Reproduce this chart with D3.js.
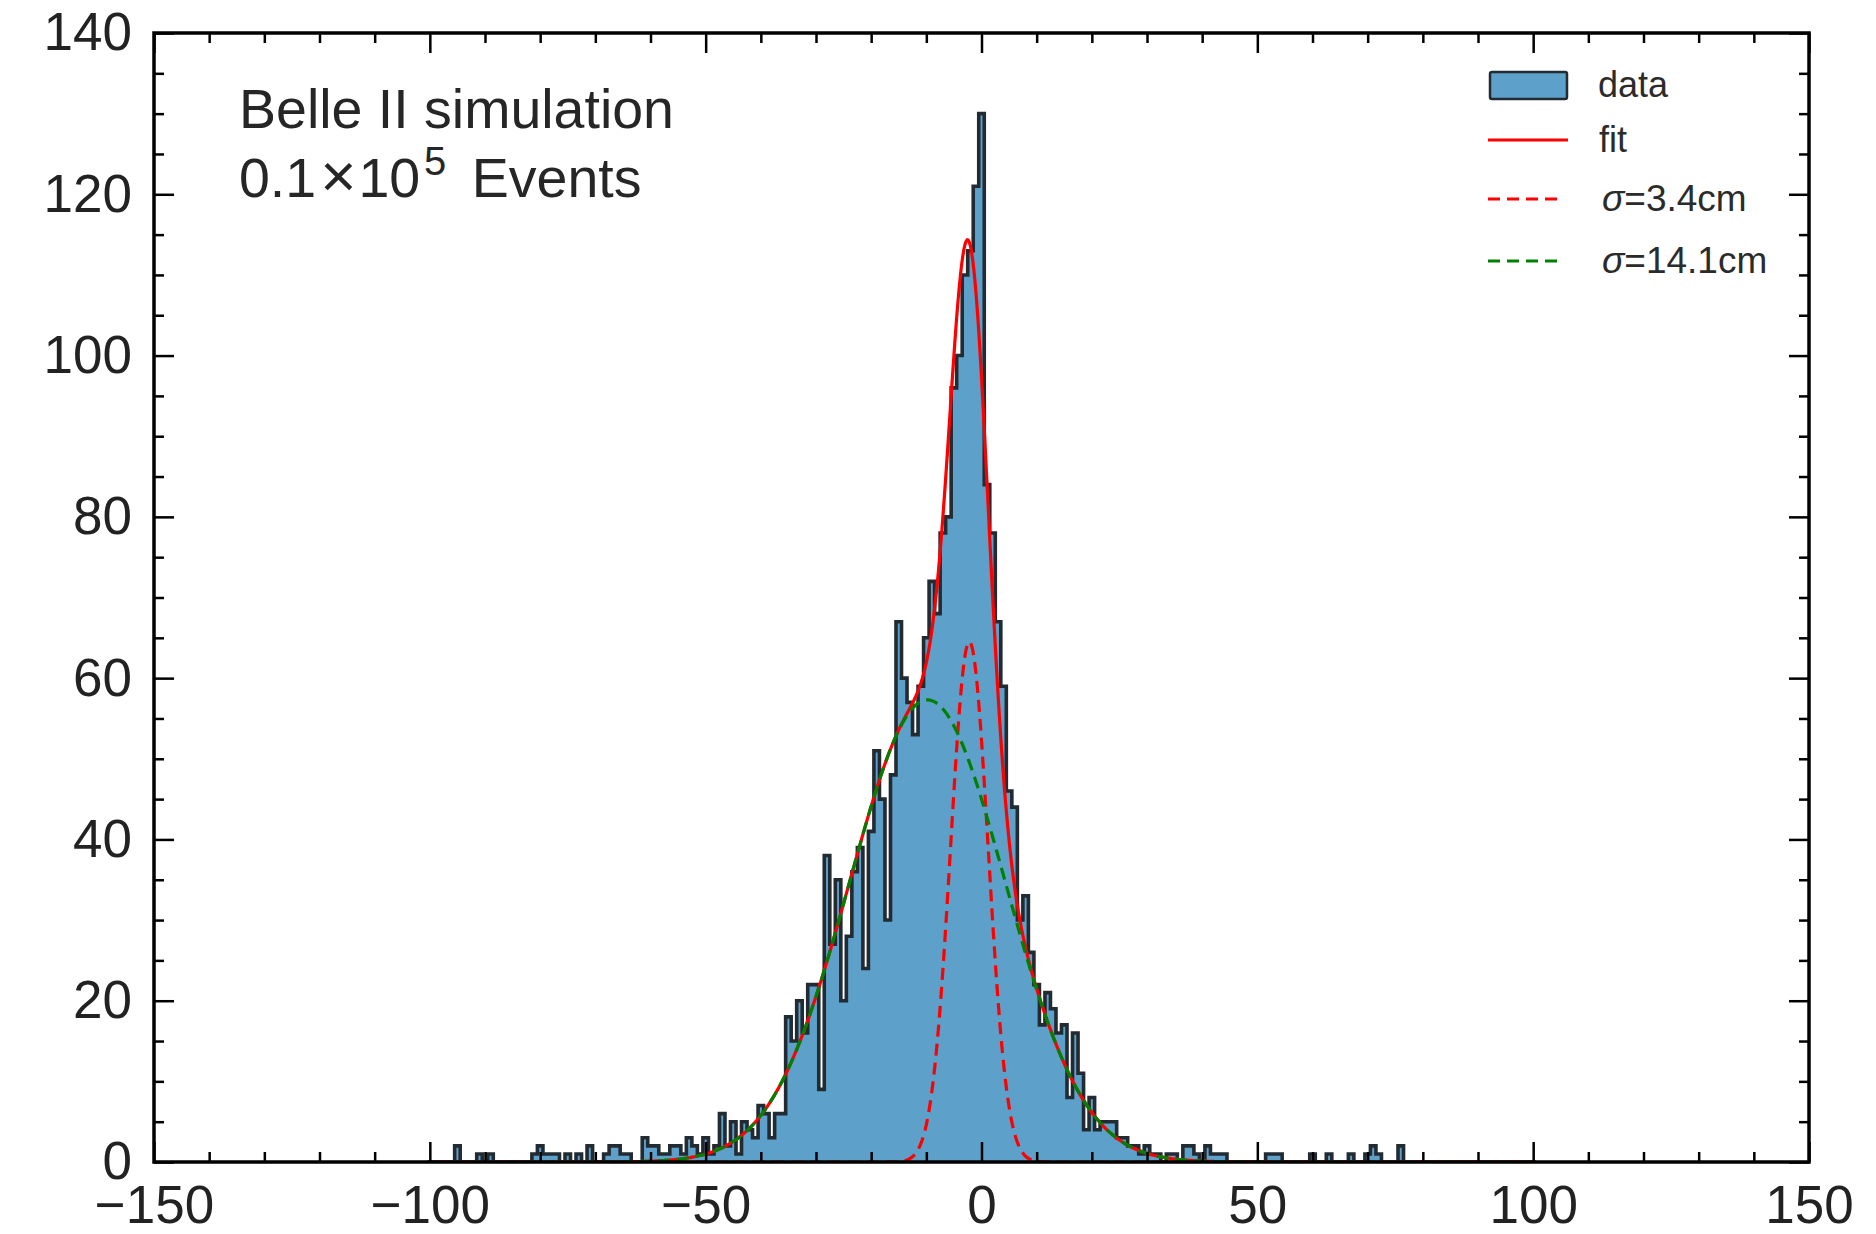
<!DOCTYPE html>
<html><head><meta charset="utf-8">
<script src="https://cdn.jsdelivr.net/npm/d3@7"></script>
<style>body{margin:0;background:#fff}svg{display:block}</style>
</head><body>
<svg id="chart" width="1876" height="1234"></svg>
<script>
// ---------- data ----------
const histStart = -100.5;   // left edge of the first bin
const binWidth = 1;
// counts per bin, bins centred on -100 ... 100
const counts = [
  0,0,0,0,0,2,0,0,0,1,        // -100..-91
  0,1,0,0,0,0,0,0,0,1,        // -90..-81
  2,1,1,1,0,1,0,1,0,2,        // -80..-71
  0,0,1,2,2,1,1,0,0,3,        // -70..-61
  2,2,1,1,2,2,1,3,2,1,        // -60..-51
  3,1,2,6,2,5,1,5,4,3,        // -50..-41
  7,6,3,6,6,18,15,20,16,22,   // -40..-31
  22,9,38,27,35,20,28,36,39,24, // -30..-21
  41,51,45,30,48,67,60,57,53,59, // -20..-11
  65,72,68,78,80,96,100,110,113,121, // -10..-1
  130,84,78,67,59,46,44,30,33,26, // 0..9
  22,17,21,19,16,17,8,16,11,4,  // 10..19
  8,4,5,5,5,3,3,2,2,1,        // 20..29
  2,1,1,0,1,1,0,2,2,1,        // 30..39
  0,2,1,1,1,0,0,0,0,0,        // 40..49
  0,0,1,1,1,0,0,0,0,0,        // 50..59
  1,0,0,1,0,0,0,1,0,0,        // 60..69
  1,2,1,0,0,0,2,0,0,0,        // 70..79
  0,0,0,0,0,0,0,0,0,0,        // 80..89
  0,0,0,0,0,0,0,0,0,0,        // 90..99
  0                           // 100
];
// fitted Gaussian components (narrow, wide)
const fitLabels = ["σ=3.4cm", "σ=14.1cm"];
const fitMu = [-2.2, -9.8];
const fitSigma = [3.4, 14.1];
const fitAmp = [64.5, 57.3];
const fitRange = [-100, 100];

const xTicks = [-150, -100, -50, 0, 50, 100, 150];
const yTicks = [0, 20, 40, 60, 80, 100, 120, 140];
const xMinorStep = 10, yMinorStep = 5;

// ---------- layout ----------
const W = 1876, H = 1234;
const L = 154, R = 1809, T = 33, B = 1162;
const svg = d3.select("#chart");
svg.append("rect").attr("width", W).attr("height", H).attr("fill", "#fff");

const x = d3.scaleLinear().domain([-150, 150]).range([L, R]);
const y = d3.scaleLinear().domain([0, 140]).range([B, T]);

svg.append("clipPath").attr("id", "clip").append("rect")
  .attr("x", L).attr("y", T).attr("width", R - L).attr("height", B - T);

const plot = svg.append("g").attr("clip-path", "url(#clip)");

// histogram (stepfilled)
const pts = counts.map((c, i) => [histStart + i * binWidth, c]);
pts.push([histStart + counts.length * binWidth, counts[counts.length - 1]]);
const full = [[pts[0][0], 0]].concat(pts).concat([[pts[pts.length - 1][0], 0]]);

const area = d3.area().x(d => x(d[0])).y0(y(0)).y1(d => y(d[1])).curve(d3.curveStepAfter);
const stepLine = d3.line().x(d => x(d[0])).y(d => y(d[1])).curve(d3.curveStepAfter);

const fillColor = "#5da0ca", edgeColor = "#222b32";
plot.append("path").attr("d", area(pts)).attr("fill", fillColor);
plot.append("path").attr("d", stepLine(full)).attr("fill", "none")
  .attr("stroke", edgeColor).attr("stroke-width", 3.6).attr("stroke-linejoin", "miter");

// fit curves
const gauss = (k, v) => fitAmp[k] * Math.exp(-((v - fitMu[k]) ** 2) / (2 * fitSigma[k] ** 2));
const xs = d3.range(fitRange[0], fitRange[1] + 0.001, 0.2);
const fitLine = d3.line().x(d => x(d[0])).y(d => y(d[1]));
const total = xs.map(v => [v, gauss(0, v) + gauss(1, v)]);
const narrow = xs.map(v => [v, gauss(0, v)]);
const wide = xs.map(v => [v, gauss(1, v)]);
const dash = "12,7";
plot.append("path").attr("d", fitLine(total)).attr("fill", "none").attr("stroke", "#ff0000").attr("stroke-width", 3.2);
plot.append("path").attr("d", fitLine(narrow)).attr("fill", "none").attr("stroke", "#ff0000").attr("stroke-width", 3.2).attr("stroke-dasharray", dash);
plot.append("path").attr("d", fitLine(wide)).attr("fill", "none").attr("stroke", "#008000").attr("stroke-width", 3.2).attr("stroke-dasharray", dash);

// ---------- axes ----------
const font = "'Liberation Sans', Arial, Helvetica, sans-serif";
const xMinor = d3.range(-150, 151, xMinorStep).filter(v => !xTicks.includes(v));
const yMinor = d3.range(0, 141, yMinorStep).filter(v => !yTicks.includes(v));
const MAJ = 20, MIN = 10;

function styleTicks(g) {
  g.select(".domain").remove();
  g.selectAll(".tick line").attr("stroke", "#000").attr("stroke-width", 2.5);
  g.selectAll(".tick text").attr("fill", "#222").attr("font-family", font).attr("font-size", 53);
}
// bottom
svg.append("g").attr("transform", `translate(0,${B})`)
  .call(d3.axisBottom(x).tickValues(xTicks).tickSizeInner(-MAJ).tickSizeOuter(0).tickPadding(23).tickFormat(d3.format("d")))
  .call(styleTicks);
svg.append("g").attr("transform", `translate(0,${B})`)
  .call(d3.axisBottom(x).tickValues(xMinor).tickSizeInner(-MIN).tickSizeOuter(0).tickFormat(""))
  .call(styleTicks);
// top
svg.append("g").attr("transform", `translate(0,${T})`)
  .call(d3.axisTop(x).tickValues(xTicks).tickSizeInner(-MAJ).tickSizeOuter(0).tickFormat(""))
  .call(styleTicks);
svg.append("g").attr("transform", `translate(0,${T})`)
  .call(d3.axisTop(x).tickValues(xMinor).tickSizeInner(-MIN).tickSizeOuter(0).tickFormat(""))
  .call(styleTicks);
// left
svg.append("g").attr("transform", `translate(${L},0)`)
  .call(d3.axisLeft(y).tickValues(yTicks).tickSizeInner(-MAJ).tickSizeOuter(0).tickPadding(22).tickFormat(d3.format("d")))
  .call(styleTicks);
svg.append("g").attr("transform", `translate(${L},0)`)
  .call(d3.axisLeft(y).tickValues(yMinor).tickSizeInner(-MIN).tickSizeOuter(0).tickFormat(""))
  .call(styleTicks);
// right
svg.append("g").attr("transform", `translate(${R},0)`)
  .call(d3.axisRight(y).tickValues(yTicks).tickSizeInner(-MAJ).tickSizeOuter(0).tickFormat(""))
  .call(styleTicks);
svg.append("g").attr("transform", `translate(${R},0)`)
  .call(d3.axisRight(y).tickValues(yMinor).tickSizeInner(-MIN).tickSizeOuter(0).tickFormat(""))
  .call(styleTicks);

// frame
svg.append("rect").attr("x", L).attr("y", T).attr("width", R - L).attr("height", B - T)
  .attr("fill", "none").attr("stroke", "#000").attr("stroke-width", 3.5);

// ---------- annotation ----------
const txt = "#262626";
svg.append("text").attr("x", 239).attr("y", 128).attr("font-family", font).attr("font-size", 55.5)
  .attr("fill", txt).text("Belle II simulation");
const t2 = svg.append("text").attr("x", 239).attr("y", 197).attr("font-family", font).attr("font-size", 55.5).attr("fill", txt);
t2.append("tspan").text("0.1");
t2.append("tspan").attr("dx", 4).attr("font-size", 62).text("×");
t2.append("tspan").attr("dx", 2).text("10");
t2.append("tspan").attr("font-size", 40).attr("dx", 4).attr("dy", -22).text("5");
t2.append("tspan").attr("dy", 22).attr("dx", 10).text(" Events");

// ---------- legend ----------
const lg = svg.append("g").attr("font-family", font).attr("font-size", 36).attr("fill", "#2b2b2b");
lg.append("rect").attr("x", 1490).attr("y", 72).attr("width", 77).attr("height", 27).attr("rx", 2)
  .attr("fill", fillColor).attr("stroke", edgeColor).attr("stroke-width", 2.5);
lg.append("text").attr("x", 1598).attr("y", 97).text("data");
lg.append("line").attr("x1", 1488).attr("x2", 1568).attr("y1", 140).attr("y2", 140).attr("stroke", "#ff0000").attr("stroke-width", 3);
lg.append("text").attr("x", 1599).attr("y", 152).text("fit");
const legColors = ["#ff0000", "#008000"];
const legY = [199, 261];
fitLabels.forEach((lab, i) => {
  lg.append("line").attr("x1", 1488).attr("x2", 1564).attr("y1", legY[i]).attr("y2", legY[i])
    .attr("stroke", legColors[i]).attr("stroke-width", 3).attr("stroke-dasharray", dash);
  const t = lg.append("text").attr("x", 1602).attr("y", legY[i] + 12).attr("font-size", 37);
  t.append("tspan").attr("font-style", "italic").text(lab.slice(0, 1));
  t.append("tspan").text(lab.slice(1));
});
</script>
</body></html>
